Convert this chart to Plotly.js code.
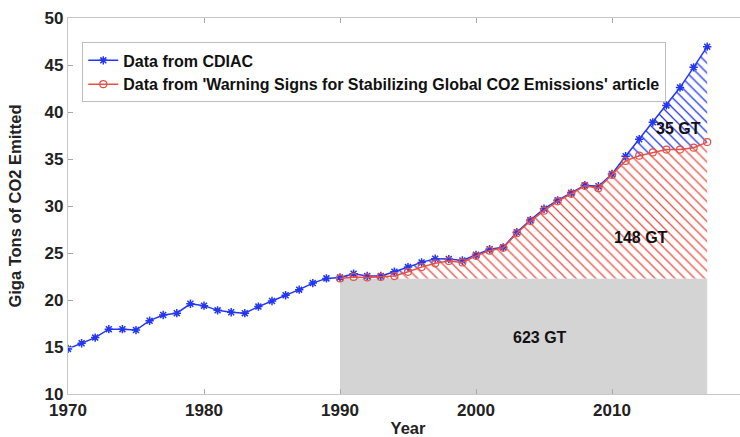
<!DOCTYPE html>
<html>
<head>
<meta charset="utf-8">
<script src="https://cdn.plot.ly/plotly-3.0.1.min.js"></script>
<style>
html,body{margin:0;padding:0;background:#fff;overflow:hidden;}
#chart{width:748px;height:437px;}
</style>
</head>
<body>
<div id="chart"></div>
<script>
// ---- data ----
const years = [];
for (let y = 1970; y <= 2017; y++) years.push(y);

const cdiacValues = [
  14.8, 15.4, 16.0, 16.9, 16.9, 16.8, 17.8, 18.4, 18.6, 19.6,
  19.4, 18.9, 18.7, 18.6, 19.3, 19.9, 20.5, 21.1, 21.8, 22.3,
  22.4, 22.8, 22.55, 22.55, 23.0, 23.5, 24.0, 24.4, 24.35, 24.2,
  24.8, 25.4, 25.6, 27.2, 28.5, 29.7, 30.6, 31.4, 32.2, 32.1,
  33.4, 35.3, 37.1, 38.9, 40.7, 42.6, 44.75, 46.95
];

const articleYears = [];
for (let y = 1990; y <= 2017; y++) articleYears.push(y);

const articleValues = [
  22.3, 22.45, 22.4, 22.45, 22.55, 23.0, 23.5, 23.9, 24.15, 24.0,
  24.7, 25.25, 25.55, 27.1, 28.4, 29.5, 30.5, 31.3, 32.15, 31.9,
  33.3, 34.8, 35.35, 35.7, 36.0, 36.0, 36.2, 36.8
];

const baselineYears = [1990, 2017];
const baselineValue = 22.3;

const areaLabels = ["623 GT", "148 GT", "35 GT"];
const areaLabelX = [2004.7, 2012.1, 2014.9];
const areaLabelY = [16.0, 26.6, 38.2];

const legendNames = ["Data from CDIAC", "Data from 'Warning Signs for Stabilizing Global CO2 Emissions' article"];
const xTicks = [1970, 1980, 1990, 2000, 2010, 2020];
const yTicks = [10, 15, 20, 25, 30, 35, 40, 45, 50];

// ---- styles ----
const BLUE = 'rgb(35,55,240)';
const RED = 'rgb(230,80,70)';
const GRAY = 'rgb(212,212,212)';
const FONT = '"Liberation Sans", Arial, sans-serif';

const cdiacFrom1990 = cdiacValues.slice(years.indexOf(1990));

const traces = [
  { // gray baseline block
    x: baselineYears, y: baselineYears.map(() => baselineValue),
    type: 'scatter', mode: 'lines', fill: 'tozeroy',
    fillcolor: GRAY, line: {width: 0, color: GRAY},
    showlegend: false, hoverinfo: 'skip'
  },
  { // red hatched area
    x: articleYears, y: articleValues,
    type: 'scatter', mode: 'lines', fill: 'tonexty',
    fillcolor: 'white', line: {width: 0, color: RED},
    fillpattern: {shape: '\\', fgcolor: RED, bgcolor: 'white', size: 7, solidity: 0.18},
    showlegend: false, hoverinfo: 'skip'
  },
  { // blue hatched area
    x: articleYears, y: cdiacFrom1990,
    type: 'scatter', mode: 'lines', fill: 'tonexty',
    fillcolor: 'white', line: {width: 0, color: BLUE},
    fillpattern: {shape: '\\', fgcolor: BLUE, bgcolor: 'white', size: 7, solidity: 0.18},
    showlegend: false, hoverinfo: 'skip'
  },
  {
    x: years, y: cdiacValues, name: legendNames[0],
    type: 'scatter', mode: 'lines+markers',
    line: {color: BLUE, width: 1.5},
    marker: {symbol: 'asterisk-open', size: 7, color: BLUE, line: {color: BLUE, width: 1.5}}
  },
  {
    x: articleYears, y: articleValues, name: legendNames[1],
    type: 'scatter', mode: 'lines+markers',
    line: {color: RED, width: 1.5},
    marker: {symbol: 'circle-open', size: 7, color: RED, line: {color: RED, width: 1.2}}
  }
];

const axisCommon = {
  showgrid: false, zeroline: false, showline: true, mirror: 'ticks',
  linecolor: 'rgb(200,200,200)', linewidth: 1.2,
  ticks: 'inside', ticklen: 5, tickcolor: 'rgb(170,170,170)', tickwidth: 1,
  tickfont: {family: FONT, size: 17, color: '#222', weight: 'bold'}
};

const layout = {
  width: 748, height: 437,
  margin: {l: 68, r: 0, t: 18, b: 43},
  paper_bgcolor: 'white', plot_bgcolor: 'white',
  font: {family: FONT, color: '#222'},
  xaxis: Object.assign({}, axisCommon, {
    range: [1970, 2020], tickvals: xTicks, ticktext: xTicks.map(String),
    title: {text: 'Year', font: {family: FONT, size: 16.5, color: '#222', weight: 'bold'}, standoff: 4}
  }),
  yaxis: Object.assign({}, axisCommon, {
    range: [10, 50], tickvals: yTicks, ticktext: yTicks.map(String),
    ticklabelstandoff: 0,
    title: {text: 'Giga Tons of CO2 Emitted', font: {family: FONT, size: 16.5, color: '#222', weight: 'bold'}, standoff: 18}
  }),
  legend: {
    x: 0.021, y: 0.935, xanchor: 'left', yanchor: 'top',
    traceorder: 'normal',
    bgcolor: 'white', bordercolor: 'rgb(190,190,190)', borderwidth: 1,
    font: {family: FONT, size: 16, color: '#111', weight: 'bold'},
    itemwidth: 30, tracegroupgap: 0
  },
  annotations: areaLabels.map((t, i) => ({
    x: areaLabelX[i], y: areaLabelY[i], xref: 'x', yref: 'y',
    text: t, showarrow: false,
    font: {family: FONT, size: 16, color: '#111', weight: 'bold'}
  }))
};

Plotly.newPlot('chart', traces, layout, {displayModeBar: false, staticPlot: true});
</script>
</body>
</html>
